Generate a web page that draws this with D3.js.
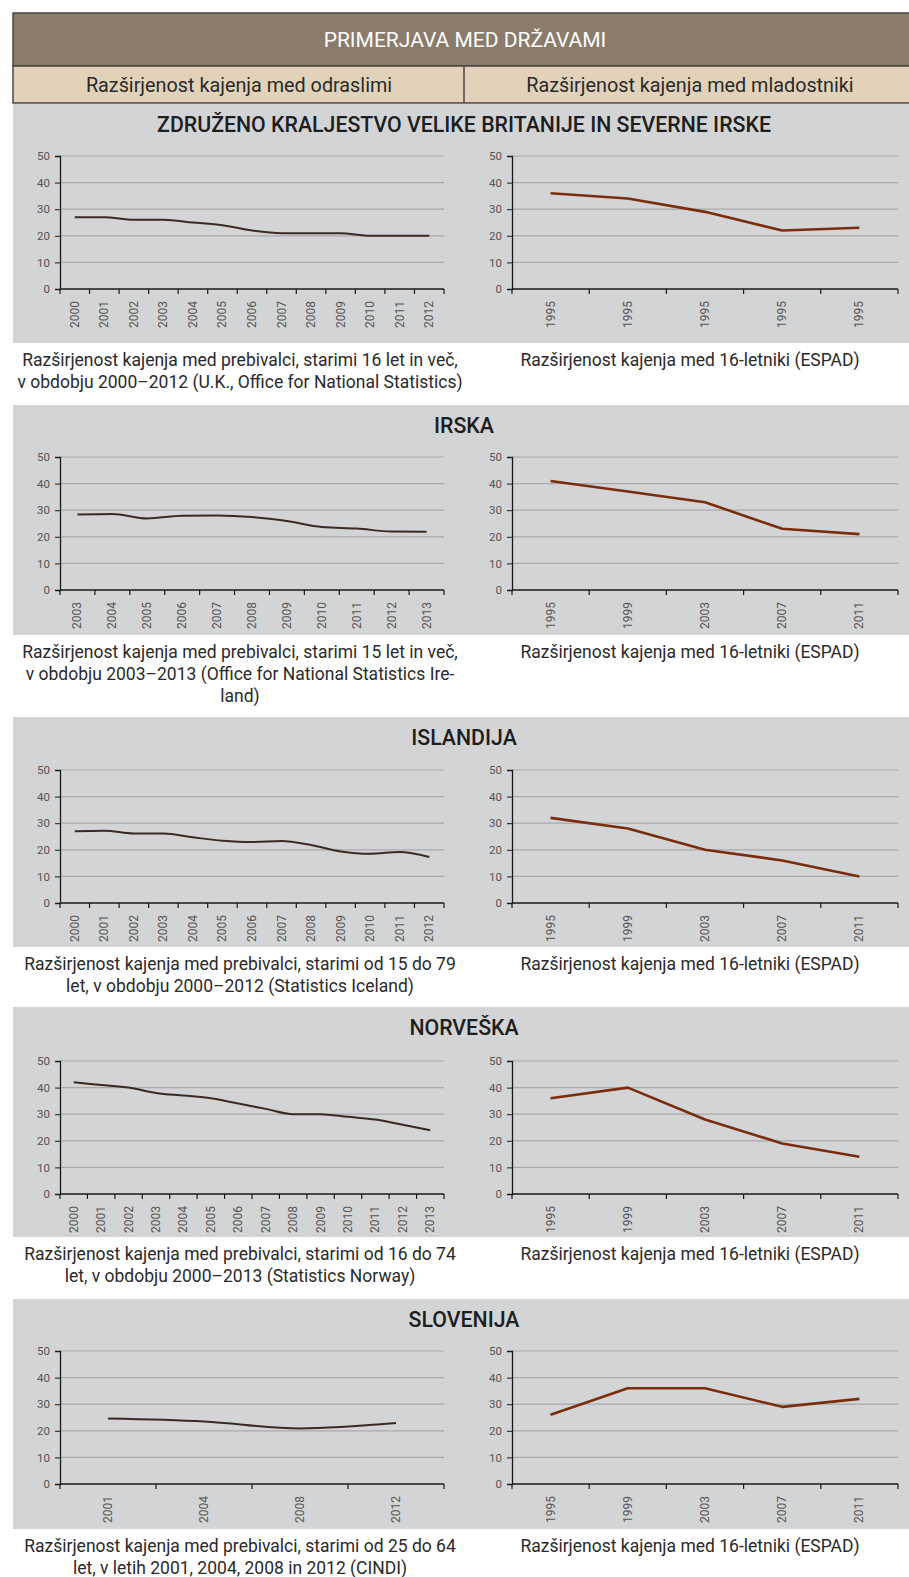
<!DOCTYPE html>
<html><head><meta charset="utf-8">
<script src="https://cdn.jsdelivr.net/npm/d3@7"></script>
<style>
html,body{margin:0;padding:0;background:#fff;}
svg{display:block;font-family:Roboto,"Noto Sans",sans-serif;}
</style></head>
<body>
<svg id="chart" width="909" height="1577"></svg>
<script>
// ---- data ----
const headerTitle = "PRIMERJAVA MED DRŽAVAMI";
const columnTitles = ["Razširjenost kajenja med odraslimi", "Razširjenost kajenja med mladostniki"];
const countries = ["ZDRUŽENO KRALJESTVO VELIKE BRITANIJE IN SEVERNE IRSKE", "IRSKA", "ISLANDIJA", "NORVEŠKA", "SLOVENIJA"];
const yTicks = [0, 10, 20, 30, 40, 50];

const ukAdultYears = ["2000","2001","2002","2003","2004","2005","2006","2007","2008","2009","2010","2011","2012"];
const ukAdultValues = [27, 27, 26, 26, 25, 24, 22, 21, 21, 21, 20, 20, 20];
const ukYouthYears = ["1995","1995 ","1995  ","1995   ","1995    "];
const ukYouthValues = [36, 34, 29, 22, 23];

const ieAdultYears = ["2003","2004","2005","2006","2007","2008","2009","2010","2011","2012","2013"];
const ieAdultValues = [28.4, 28.6, 26.9, 27.9, 28, 27.4, 25.9, 23.7, 23.1, 22, 21.9];
const ieYouthYears = ["1995","1999","2003","2007","2011"];
const ieYouthValues = [41, 37, 33, 23, 21];

const isAdultYears = ["2000","2001","2002","2003","2004","2005","2006","2007","2008","2009","2010","2011","2012"];
const isAdultValues = [27, 27.2, 26.1, 26.1, 24.7, 23.4, 22.9, 23.3, 21.8, 19.4, 18.5, 19.2, 17.3];
const isYouthYears = ["1995","1999","2003","2007","2011"];
const isYouthValues = [32, 28, 20, 16, 10];

const noAdultYears = ["2000","2001","2002","2003","2004","2005","2006","2007","2008","2009","2010","2011","2012","2013"];
const noAdultValues = [42, 41, 40, 38, 37, 36, 34, 32, 30, 30, 29, 28, 26, 24];
const noYouthYears = ["1995","1999","2003","2007","2011"];
const noYouthValues = [36, 40, 28, 19, 14];

const siAdultYears = ["2001","2004","2008","2012"];
const siAdultValues = [24.6, 23.5, 20.9, 22.9];
const siYouthYears = ["1995","1999","2003","2007","2011"];
const siYouthValues = [26, 36, 36, 29, 32];

const adultCaptions = [
  ["Razširjenost kajenja med prebivalci, starimi 16 let in več,", "v obdobju 2000–2012 (U.K., Office for National Statistics)"],
  ["Razširjenost kajenja med prebivalci, starimi 15 let in več,", "v obdobju 2003–2013 (Office for National Statistics Ire-", "land)"],
  ["Razširjenost kajenja med prebivalci, starimi od 15 do 79", "let, v obdobju 2000–2012 (Statistics Iceland)"],
  ["Razširjenost kajenja med prebivalci, starimi od 16 do 74", "let, v obdobju 2000–2013 (Statistics Norway)"],
  ["Razširjenost kajenja med prebivalci, starimi od 25 do 64", "let, v letih 2001, 2004, 2008 in 2012 (CINDI)"]
];
const youthCaption = "Razširjenost kajenja med 16-letniki (ESPAD)";

const panels = [
  {title: countries[0], adult: [ukAdultYears, ukAdultValues], youth: [ukYouthYears, ukYouthValues], cap: adultCaptions[0]},
  {title: countries[1], adult: [ieAdultYears, ieAdultValues], youth: [ieYouthYears, ieYouthValues], cap: adultCaptions[1]},
  {title: countries[2], adult: [isAdultYears, isAdultValues], youth: [isYouthYears, isYouthValues], cap: adultCaptions[2]},
  {title: countries[3], adult: [noAdultYears, noAdultValues], youth: [noYouthYears, noYouthValues], cap: adultCaptions[3]},
  {title: countries[4], adult: [siAdultYears, siAdultValues], youth: [siYouthYears, siYouthValues], cap: adultCaptions[4]}
];

// ---- layout ----
const svg = d3.select("#chart");
const L = 13, R = 909, MID = 464;
const panelTops = [104, 405, 717, 1007, 1299];
const panelBottoms = [343, 635, 947, 1237, 1529];
const plotTopOff = [52, 52, 53, 54, 52];
const plotH = 133;

// header
svg.append("rect").attr("x", L).attr("y", 13).attr("width", R - L + 2).attr("height", 53)
  .attr("fill", "#8B7B6B").attr("stroke", "#4a4642").attr("stroke-width", 1.5);
svg.append("text").attr("x", 465).attr("y", 40).attr("text-anchor", "middle")
  .attr("dominant-baseline", "central").attr("fill", "#fff").attr("font-size", 21)
  .text(headerTitle);
svg.append("rect").attr("x", L).attr("y", 66).attr("width", R - L + 2).attr("height", 37)
  .attr("fill", "#E2D2BA").attr("stroke", "#4a4642").attr("stroke-width", 1.5);
svg.append("line").attr("x1", MID).attr("x2", MID).attr("y1", 66).attr("y2", 103)
  .attr("stroke", "#4a4642").attr("stroke-width", 1.5);
columnTitles.forEach((t, i) => {
  svg.append("text").attr("x", i === 0 ? 239 : 690).attr("y", 85).attr("text-anchor", "middle")
    .attr("dominant-baseline", "central").attr("fill", "#2a2a2a").attr("font-size", 19.8).text(t);
});

function drawChart(g, x0, x1, yTop, cats, vals, color, width, curve) {
  const x = d3.scaleBand().domain(cats).range([x0, x1]);
  const y = d3.scaleLinear().domain([0, 50]).range([yTop + plotH, yTop]);
  // gridlines
  g.selectAll(null).data(yTicks.filter(d => d > 0)).enter().append("line")
    .attr("x1", x0).attr("x2", x1).attr("y1", d => y(d)).attr("y2", d => y(d))
    .attr("stroke", "#A9A9AA").attr("stroke-width", 1.2);
  // y axis
  const ya = g.append("g").attr("transform", `translate(${x0},0)`)
    .call(d3.axisLeft(y).tickValues(yTicks).tickSize(5).tickPadding(5));
  ya.select(".domain").attr("stroke", "#1a1a1a").attr("stroke-width", 1.3);
  ya.selectAll(".tick line").attr("stroke", "#1a1a1a");
  ya.selectAll("text").attr("fill", "#555").attr("font-size", 11.5).attr("font-family", "Roboto");
  // x axis: ticks at band boundaries
  const xa = g.append("g").attr("transform", `translate(0,${y(0)})`);
  xa.append("line").attr("x1", x0).attr("x2", x1).attr("stroke", "#1a1a1a").attr("stroke-width", 1.3);
  const bounds = cats.map(c => x(c)).concat([x1]);
  xa.selectAll(null).data(bounds).enter().append("line")
    .attr("x1", d => d).attr("x2", d => d).attr("y1", 0).attr("y2", 5)
    .attr("stroke", "#1a1a1a").attr("stroke-width", 1.2);
  xa.selectAll(null).data(cats).enter().append("text")
    .attr("transform", d => `translate(${x(d) + x.bandwidth() / 2},12) rotate(-90)`)
    .attr("text-anchor", "end").attr("dominant-baseline", "central")
    .attr("fill", "#555").attr("font-size", 12).text(d => d.trim());
  // line
  const line = d3.line().x((d, i) => x(cats[i]) + x.bandwidth() / 2).y(d => y(d)).curve(curve);
  g.append("path").datum(vals).attr("d", line).attr("fill", "none")
    .attr("stroke", color).attr("stroke-width", width).attr("stroke-linejoin", "round");
}

panels.forEach((p, i) => {
  const top = panelTops[i], bot = panelBottoms[i];
  const g = svg.append("g");
  g.append("rect").attr("x", L).attr("y", top).attr("width", R - L).attr("height", bot - top).attr("fill", "#D3D4D6");
  g.append("text").attr("x", 464).attr("y", top + 20).attr("text-anchor", "middle")
    .attr("dominant-baseline", "central").attr("fill", "#1e1e1e").attr("font-size", 21.3)
    .attr("font-weight", 500).text(p.title);
  const yTop = top + plotTopOff[i];
  drawChart(g, 60, 444, yTop, p.adult[0], p.adult[1], "#3B2A22", 2, d3.curveMonotoneX);
  drawChart(g, 512, 898, yTop, p.youth[0], p.youth[1], "#7A2D0D", 2.6, d3.curveLinear);
  p.cap.forEach((t, k) => {
    svg.append("text").attr("x", 240).attr("y", bot + 17 + k * 22).attr("text-anchor", "middle")
      .attr("dominant-baseline", "central").attr("fill", "#2a2a2a").attr("font-size", 17.5).text(t);
  });
  svg.append("text").attr("x", 690).attr("y", bot + 17).attr("text-anchor", "middle")
    .attr("dominant-baseline", "central").attr("fill", "#2a2a2a").attr("font-size", 17.5).text(youthCaption);
});
</script>
</body></html>
